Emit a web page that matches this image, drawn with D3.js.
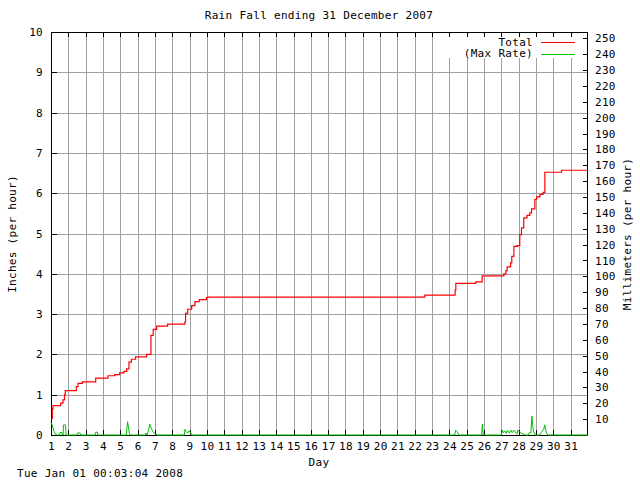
<!DOCTYPE html>
<html><head><meta charset="utf-8">
<script src="https://cdn.jsdelivr.net/npm/d3@7"></script>
<style>
body{margin:0;background:#fff;}
svg text{font-family:"DejaVu Sans Mono","Liberation Mono",monospace;font-size:11px;letter-spacing:0.3px;fill:#000;}
</style></head><body>
<svg id="c" width="640" height="480"></svg>
<script>
const titleText = "Rain Fall ending 31 December 2007";
const stampText = "Tue Jan 01 00:03:04 2008";
const dayTicks = d3.range(1, 32);
const inchTicks = d3.range(0, 11);
const mmTicks = d3.range(10, 251, 10);

// Cumulative total (inches), step-after: [day, total]
const totalDays = [1.00,1.075,1.115,1.56,1.69,1.78,1.825,2.46,2.56,2.81,3.58,4.29,4.68,4.96,5.21,5.37,5.50,5.64,5.88,6.52,6.77,6.90,7.10,7.73,8.73,8.77,8.89,9.12,9.31,9.56,9.98,10.06,22.58,24.33,24.37,25.52,25.89,27.14,27.26,27.33,27.53,27.60,27.72,27.91,28.06,28.16,28.29,28.48,28.64,28.74,28.93,29.03,29.22,29.41,29.51,30.47,32.0];
const totalVals = [0.41,0.65,0.73,0.79,0.87,1.00,1.10,1.20,1.28,1.32,1.41,1.47,1.50,1.54,1.58,1.64,1.81,1.88,1.94,2.00,2.47,2.62,2.70,2.75,2.81,3.02,3.12,3.21,3.31,3.36,3.41,3.42,3.47,3.60,3.76,3.80,3.95,4.00,4.08,4.17,4.27,4.43,4.68,4.70,4.97,5.14,5.39,5.45,5.51,5.61,5.84,5.91,5.97,6.02,6.52,6.57,6.57];

// Max rate (inches per hour)
const rateDays = [1.00,1.07,1.15,1.25,1.35,1.50,1.52,1.64,1.66,1.70,1.72,1.84,1.87,2.50,2.52,2.68,2.70,3.55,3.57,3.68,3.70,5.35,5.38,5.42,5.47,5.52,5.56,6.45,6.48,6.55,6.62,6.70,6.78,6.88,7.00,7.15,8.70,8.73,8.80,8.88,8.95,9.05,9.10,24.30,24.36,24.45,24.55,25.86,25.88,25.91,25.94,25.96,27.00,27.05,27.12,27.20,27.28,27.35,27.45,27.55,27.62,27.72,27.80,27.90,27.95,28.05,28.15,28.30,28.40,28.55,28.62,28.70,28.76,28.80,28.85,28.95,29.20,29.45,29.50,29.56,29.62,29.70,32.0];
const rateVals = [0.30,0.25,0.12,0.02,0,0,0.06,0.06,0,0,0.25,0.25,0,0,0.05,0.05,0,0,0.07,0.07,0,0,0.15,0.33,0.20,0.05,0,0,0.05,0,0.10,0.27,0.18,0.08,0.03,0,0,0.14,0.09,0.05,0.09,0.08,0,0,0.12,0.08,0,0,0.18,0.27,0.05,0,0,0.12,0.06,0.10,0.04,0.12,0.05,0.12,0.06,0.12,0.08,0.02,0.12,0.08,0.04,0.02,0,0,0.06,0.05,0.47,0.25,0.10,0,0,0.15,0.25,0.12,0.03,0,0];

const legendNames = ["Total", "(Max Rate)"];
const seriesColors = ["#ff0000", "#00c000"];

const L = 51, R = 588, T = 32, B = 435;
const svg = d3.select("#c");
const x = d3.scaleLinear().domain([1, 32]).range([L, R]);
const y = d3.scaleLinear().domain([0, 10]).range([B, T]);
const y2 = d3.scaleLinear().domain([0, 254]).range([B, T]);

// grid
const g = svg.append("g").attr("shape-rendering", "crispEdges");
g.selectAll("line.vx").data(dayTicks.slice(1)).join("line")
  .attr("x1", d => Math.round(x(d)) + 0.5).attr("x2", d => Math.round(x(d)) + 0.5)
  .attr("y1", T).attr("y2", B).attr("stroke", "#a0a0a0");
g.selectAll("line.hy").data(inchTicks.slice(1, 10)).join("line")
  .attr("y1", d => Math.round(y(d)) + 0.5).attr("y2", d => Math.round(y(d)) + 0.5)
  .attr("x1", L).attr("x2", R).attr("stroke", "#a0a0a0");

// legend background
svg.append("rect").attr("x", 444).attr("y", T + 1).attr("width", R - 444 - 1).attr("height", 25).attr("fill", "#fff");

// axes
function styleAxis(sel) {
  sel.attr("shape-rendering", "crispEdges");
  sel.select(".domain").remove();
  sel.selectAll(".tick line").attr("stroke", "#000");
  sel.selectAll(".tick text").attr("font-family", null).attr("font-size", null);
}
svg.append("g").attr("transform", `translate(0,${B})`)
  .call(d3.axisBottom(x).tickValues(dayTicks).tickSizeInner(-5).tickSizeOuter(0).tickPadding(7).tickFormat(d3.format("d")))
  .call(styleAxis);
svg.append("g").attr("transform", `translate(0,${T})`)
  .call(d3.axisTop(x).tickValues(dayTicks).tickSizeInner(-5).tickSizeOuter(0).tickFormat(""))
  .call(styleAxis);
svg.append("g").attr("transform", `translate(${L},0)`)
  .call(d3.axisLeft(y).tickValues(inchTicks).tickSizeInner(-6).tickSizeOuter(0).tickPadding(8).tickFormat(d3.format("d")))
  .call(styleAxis);
svg.append("g").attr("transform", `translate(${R},0)`)
  .call(d3.axisRight(y2).tickValues(mmTicks).tickSizeInner(-5).tickSizeOuter(0).tickPadding(7).tickFormat(d3.format("d")))
  .call(styleAxis);

// border
svg.append("rect").attr("x", L + 0.5).attr("y", T + 0.5).attr("width", R - L - 1).attr("height", B - T)
  .attr("fill", "none").attr("stroke", "#000").attr("shape-rendering", "crispEdges");

// data
const totalData = totalDays.map((d, i) => [d, totalVals[i]]);
const rateData = rateDays.map((d, i) => [d, rateVals[i]]);
svg.append("path").datum(rateData)
  .attr("d", d3.line().x(d => x(d[0])).y(d => y(d[1])))
  .attr("fill", "none").attr("stroke", seriesColors[1]).attr("stroke-width", 1);
svg.append("path").datum(totalData)
  .attr("d", d3.line().curve(d3.curveStepAfter).x(d => x(d[0])).y(d => y(d[1])))
  .attr("fill", "none").attr("stroke", seriesColors[0]).attr("stroke-width", 1.2);

// legend
legendNames.forEach((n, i) => {
  const ly = 42 + i * 11.5;
  svg.append("text").attr("x", 533).attr("y", ly).attr("dy", "0.35em").attr("text-anchor", "end").text(n);
  svg.append("line").attr("x1", 541).attr("x2", 575).attr("y1", ly + 0.5).attr("y2", ly + 0.5)
    .attr("stroke", seriesColors[i]).attr("shape-rendering", "crispEdges");
});

// titles
svg.append("text").attr("x", 319).attr("y", 15).attr("dy", "0.35em").attr("text-anchor", "middle").text(titleText);
svg.append("text").attr("x", 319).attr("y", 462).attr("dy", "0.35em").attr("text-anchor", "middle").text("Day");
svg.append("text").attr("x", 17).attr("y", 473).attr("dy", "0.35em").text(stampText);
svg.append("text").attr("transform", "translate(12,234) rotate(-90)").attr("dy", "0.35em").attr("text-anchor", "middle").text("Inches (per hour)");
svg.append("text").attr("transform", "translate(627,234) rotate(-90)").attr("dy", "0.35em").attr("text-anchor", "middle").text("Millimeters (per hour)");
</script>
</body></html>
